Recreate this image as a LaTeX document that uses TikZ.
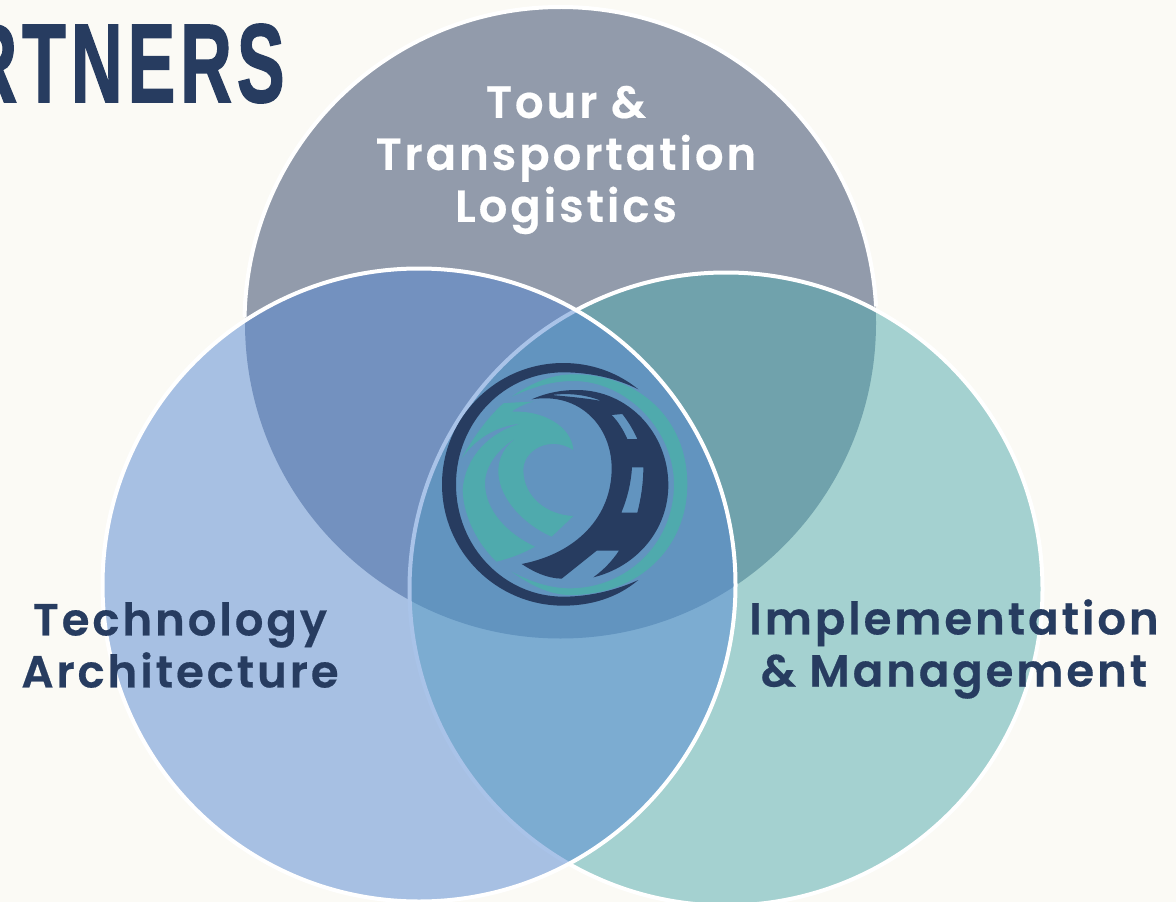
\documentclass[tikz,border=0pt]{standalone}
\usepackage{fontspec}
\usepackage{xcolor}
\newfontfamily\labelfont[LetterSpace=6.5, FakeBold=0.4]{Poppins SemiBold}
\newfontfamily\titlefont[LetterSpace=7.0, FakeBold=1.6]{Liberation Sans Bold}
\definecolor{pagebg}{HTML}{FBFAF5}
\definecolor{navy}{HTML}{273C60}
\definecolor{teal}{HTML}{4FAAAD}
\definecolor{topgrey}{HTML}{929BAB}
\definecolor{leftblue}{HTML}{5588D3}
\tikzset{
    venn/.style = {draw=white, line width=0.08cm},
    venntext/.style = {inner sep=0pt, align=center, text=navy, font=\labelfont\fontsize{25.6}{29.6}\selectfont}
}

\begin{document}
\begin{tikzpicture}[x=0.02cm, y=-0.02cm]
    \useasboundingbox (0,0) rectangle (1176,902);
    \clip (0,0) rectangle (1176,902);
    \fill [pagebg] (0,0) rectangle (1176,902);

    % circles
    \fill [topgrey] (560.5,323) circle (315.5);
    \draw [venn] (560.5,323) ++(181:316) arc [start angle=181, end angle=357, radius=316];
    \path [venn, fill=teal, fill opacity=0.5] (726,589) circle (316.5);
    \path [venn, fill=leftblue, fill opacity=0.5] (419,585) circle (316.5);

    % title
    \node [inner sep=0pt, anchor=base east, text=navy] (title) at (285,102)
        {\scalebox{0.64}[1]{\titlefont\fontsize{63.6}{70}\selectfont RTNERS}};

    % labels
    \node [venntext, text=white] (tour) at (566,160) {Tour \&\\Transportation\\Logistics};
    \node [venntext] (tech) at (180,645) {Technology\\Architecture};
    \node [venntext] (impl) at (954,649) {Implementation\\\& Management};

    % logo
    \begin{scope}[shift={(420,340)}, scale=0.33333]
        \fill [navy] (655,148) .. controls (590,95) and (510,69) .. (430,69)
            .. controls (229,69) and (66,232) .. (66,433)
            .. controls (66,634) and (229,797) .. (430,797)
            .. controls (510,797) and (590,775) .. (655,720)
            .. controls (590,750) and (510,770) .. (430,770)
            .. controls (252,770) and (108,620) .. (108,433)
            .. controls (108,247) and (252,97) .. (430,97)
            .. controls (510,97) and (590,115) .. (655,148) -- cycle;
        \fill [teal] (275,170) .. controls (340,125) and (400,103) .. (460,103)
            .. controls (660,103) and (802,240) .. (802,433)
            .. controls (802,620) and (660,765) .. (450,765)
            .. controls (390,765) and (330,735) .. (275,695)
            .. controls (330,725) and (390,745) .. (450,745)
            .. controls (620,745) and (762,610) .. (762,433)
            .. controls (762,270) and (620,123) .. (460,123)
            .. controls (390,123) and (330,145) .. (275,170) -- cycle;
        % road with its lane marks
        \fill [navy, even odd rule] (335,178) .. controls (375,160) and (420,150) .. (470,150)
            .. controls (625,150) and (745,280) .. (745,435)
            .. controls (745,570) and (650,680) .. (520,712)
            .. controls (550,690) and (575,665) .. (597,632)
            -- (530,632) -- (425,716)
            .. controls (380,715) and (340,695) .. (305,672)
            .. controls (470,640) and (575,530) .. (575,385)
            .. controls (575,260) and (480,155) .. (335,178) -- cycle
            (575,225) -- (607,222) .. controls (625,245) and (640,270) .. (652,297)
            -- (622,297) .. controls (610,270) and (595,245) .. (575,225) -- cycle
            (636,382) -- (670,382) .. controls (670,430) and (663,475) .. (652,518)
            -- (604,518) .. controls (622,475) and (633,430) .. (636,382) -- cycle
            (395,165) .. controls (450,158) and (500,165) .. (545,183)
            .. controls (500,175) and (450,170) .. (395,165) -- cycle;
        % wave
        \begin{scope}[shift={(90,150)}]
            \fill [teal] (250,35) .. controls (215,36) and (185,38) .. (160,40)
                .. controls (110,85) and (65,150) .. (35,205)
                .. controls (75,150) and (130,110) .. (215,100)
                .. controls (120,125) and (45,200) .. (38,300)
                .. controls (40,380) and (85,465) .. (140,515)
                .. controls (180,505) and (220,490) .. (255,470)
                .. controls (170,430) and (105,360) .. (105,280)
                .. controls (105,225) and (150,170) .. (205,140)
                .. controls (165,165) and (143,205) .. (145,250)
                .. controls (150,330) and (225,405) .. (305,440)
                -- (370,378)
                .. controls (290,375) and (220,320) .. (220,240)
                .. controls (220,180) and (300,135) .. (370,180)
                .. controls (365,110) and (280,60) .. (185,65)
                .. controls (205,50) and (230,40) .. (250,35) -- cycle;
        \end{scope}
    \end{scope}
\end{tikzpicture}
\end{document}
